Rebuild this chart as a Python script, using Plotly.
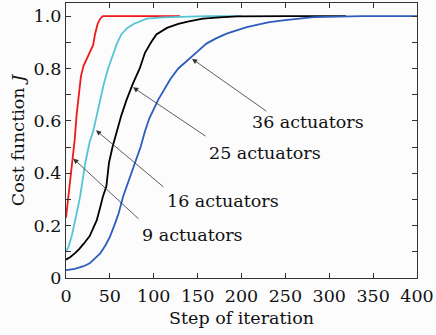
import plotly.graph_objects as go

# ---- data ----
red_x = [0, 2, 4, 6, 8, 10, 12, 14, 17, 20, 24, 28, 31, 33, 36, 39, 42, 60, 90, 130]
red_y = [0.23, 0.29, 0.35, 0.41, 0.46, 0.53, 0.62, 0.69, 0.77, 0.81, 0.84, 0.87, 0.89, 0.93, 0.97, 0.99, 1.0, 1.0, 1.0, 1.0]

cyan_x = [0, 3, 6.5, 10, 13, 16, 19, 22, 27, 31, 35, 39, 43, 48, 53, 58, 63, 70, 77, 85, 92, 110, 130, 160, 200]
cyan_y = [0.10, 0.12, 0.16, 0.21, 0.26, 0.31, 0.38, 0.44, 0.52, 0.56, 0.62, 0.68, 0.74, 0.80, 0.85, 0.895, 0.93, 0.955, 0.97, 0.98, 0.99, 0.995, 0.998, 1.0, 1.0]

black_x = [0, 5, 10, 15, 20, 27, 31, 35, 39, 42, 46, 49, 53, 58, 63, 69, 76, 84, 90, 97, 103, 115, 128, 140, 156, 175, 195, 250, 319]
black_y = [0.07, 0.08, 0.094, 0.11, 0.13, 0.16, 0.19, 0.22, 0.27, 0.31, 0.35, 0.44, 0.50, 0.56, 0.62, 0.68, 0.74, 0.80, 0.86, 0.90, 0.93, 0.955, 0.97, 0.98, 0.99, 0.995, 0.999, 1.0, 1.0]

blue_x = [0, 10, 20, 27, 33, 39, 45, 50, 55, 60, 65, 72, 79, 85, 90, 95, 105, 112, 119, 128, 141, 150, 160, 171, 183, 195, 206, 220, 232, 250, 265, 282, 310, 338, 400]
blue_y = [0.03, 0.035, 0.045, 0.056, 0.075, 0.094, 0.125, 0.157, 0.20, 0.247, 0.31, 0.375, 0.44, 0.50, 0.56, 0.61, 0.68, 0.72, 0.76, 0.80, 0.837, 0.865, 0.895, 0.915, 0.933, 0.947, 0.958, 0.968, 0.977, 0.985, 0.99, 0.996, 0.998, 1.0, 1.0]

labels = ["9 actuators", "16 actuators", "25 actuators", "36 actuators"]
arrow_head_x = [8.3, 34.2, 76.4, 143.6]
arrow_head_y = [0.456, 0.564, 0.728, 0.837]
arrow_tail_x = [84.3, 112.8, 160.7, 230.0]
arrow_tail_y = [0.221, 0.343, 0.538, 0.633]
label_x = [84.3, 112.8, 160.7, 209.7]
label_y = [0.164, 0.294, 0.477, 0.595]

y_ticks = [0, 0.1, 0.2, 0.3, 0.4, 0.5, 0.6, 0.7, 0.8, 0.9, 1.0]
y_ticktext = ["0", "", "0.2", "", "0.4", "", "0.6", "", "0.8", "", "1.0"]
x_ticks = [0, 50, 100, 150, 200, 250, 300, 350, 400]

FONT = "DejaVu Serif"
FS = 17.5

fig = go.Figure()
for xs, ys, col in [(red_x, red_y, "#f01818"), (cyan_x, cyan_y, "#55c4d4"),
                    (black_x, black_y, "#000000"), (blue_x, blue_y, "#2c5cbc")]:
    fig.add_trace(go.Scatter(x=xs, y=ys, mode="lines", line=dict(color=col, width=1.8),
                             showlegend=False))

for i in range(len(labels)):
    fig.add_annotation(x=arrow_head_x[i], y=arrow_head_y[i], ax=arrow_tail_x[i], ay=arrow_tail_y[i],
                       xref="x", yref="y", axref="x", ayref="y", text="", showarrow=True,
                       arrowhead=2, arrowsize=1.3, arrowwidth=0.8, arrowcolor="#333333")
    fig.add_annotation(x=label_x[i], y=label_y[i], xref="x", yref="y", text=labels[i],
                       showarrow=False, xanchor="left", yanchor="middle",
                       font=dict(family=FONT, size=FS, color="#111111"))

axis_common = dict(showline=True, linecolor="#333333", linewidth=1.1, mirror="ticks",
                   ticks="inside", ticklen=5, tickcolor="#333333", showgrid=False, zeroline=False,
                   tickfont=dict(family=FONT, size=FS, color="#111111"))

fig.update_xaxes(range=[0, 400], tickvals=x_ticks, ticklabelstandoff=2,
                 title=dict(text="Step of iteration", font=dict(family=FONT, size=FS, color="#111111"), standoff=6),
                 **axis_common)
fig.update_yaxes(range=[0, 1.05], tickvals=y_ticks, ticktext=y_ticktext,
                 title=dict(text="Cost function <i>J</i>", font=dict(family=FONT, size=FS, color="#111111"), standoff=4),
                 **axis_common)

fig.update_layout(width=436, height=335, margin=dict(l=66, r=19, t=3, b=57),
                  paper_bgcolor="#fcfcfc", plot_bgcolor="#fcfcfc")

fig.write_html("out.html")
